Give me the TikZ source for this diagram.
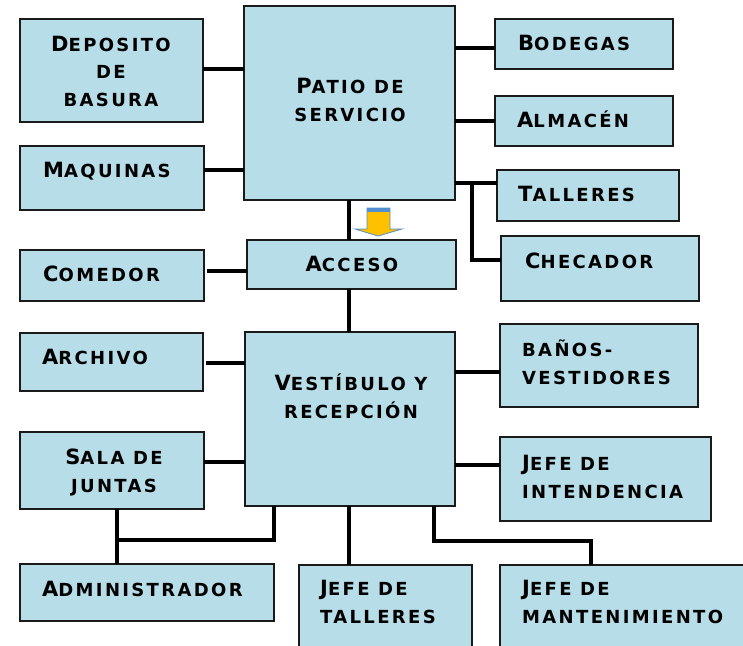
\documentclass[tikz,border=0pt]{standalone}
\usepackage{fontspec}
\newfontfamily\cpfont[LetterSpace=13]{DejaVu Sans}
\newcommand\cpfirst[1]{{\fontsize{21}{24}\selectfont #1}}
\definecolor{boxfill}{HTML}{B7DDE8}
\definecolor{boxline}{HTML}{1A1A1A}
\definecolor{arrowfill}{HTML}{FFC000}
\definecolor{arrowline}{HTML}{4F8FD0}
\tikzset{
  box/.style={draw=boxline, line width=1.8pt, fill=boxfill, rectangle, inner sep=0pt, outer sep=0pt},
  lbl/.style={font=\cpfont\bfseries\fontsize{18}{27.5}\selectfont, inner sep=0pt, text=black},
  conn/.style={draw=black, line width=3.6pt},
}
\newcommand\bx[5]{\node[box, minimum width=#4pt, minimum height=#5pt] (#1) at (#2,#3) {};}
\begin{document}
\begin{tikzpicture}[x=1pt, y=-1pt]
\useasboundingbox (0,0) rectangle (743,645);
\clip (0,0) rectangle (743,645);
% boxes
\bx{deposito}{111.5}{70.5}{183}{103}
\bx{maquinas}{112}{178}{184}{64}
\bx{patio}{349.5}{103}{211}{194}
\bx{comedor}{112}{275.5}{184}{51}
\bx{acceso}{351.5}{264.5}{209}{49}
\bx{bodegas}{584}{44}{178}{50}
\bx{almacen}{584}{121}{178}{50}
\bx{talleres}{588}{195.5}{182}{51}
\bx{checador}{600}{268.5}{198}{65}
\bx{archivo}{111.5}{362}{183}{58}
\bx{vestibulo}{350}{419}{210}{174}
\bx{sala}{112}{470.5}{184}{77}
\bx{admin}{147}{592.5}{254}{57}
\bx{jtalleres}{385.5}{617.5}{173}{105}
\bx{banos}{599}{365.5}{198}{83}
\bx{intend}{605.5}{479}{211}{84}
\bx{mant}{630}{617.5}{260}{105}
% connectors
\draw[conn] (deposito.east |- 0,69) -- (patio.west |- 0,69);
\draw[conn] (maquinas.east |- 0,170) -- (patio.west |- 0,170);
\draw[conn] (patio.east |- 0,48) -- (bodegas.west |- 0,48);
\draw[conn] (patio.east |- 0,121) -- (almacen.west |- 0,121);
\draw[conn] (patio.east |- 0,183) -- (talleres.west |- 0,183);
\draw[conn] (472,183) coordinate (tj) -- (tj |- 0,260) -- (checador.west |- 0,260);
\draw[conn] (patio.south -| 349,0) -- (acceso.north -| 349,0);
\draw[conn] ([xshift=3pt]comedor.east |- 0,271) -- (acceso.west |- 0,271);
\draw[conn] (acceso.south -| 349,0) -- (vestibulo.north -| 349,0);
\draw[conn] ([xshift=3pt]archivo.east |- 0,363) -- (vestibulo.west |- 0,363);
\draw[conn] (sala.east |- 0,462) -- (vestibulo.west |- 0,462);
\draw[conn] (vestibulo.south -| 274,0) -- (274,540) -- (117,540) coordinate (aj);
\draw[conn] (sala.south -| aj) -- (admin.north -| aj);
\draw[conn] (vestibulo.south -| 349,0) -- (jtalleres.north -| 349,0);
\draw[conn] (vestibulo.south -| 434,0) -- (434,541) -- (591,541) -- (mant.north -| 591,0);
\draw[conn] (vestibulo.east |- 0,372) -- (banos.west |- 0,372);
\draw[conn] (vestibulo.east |- 0,465) -- (intend.west |- 0,465);
% arrow
\path[fill=arrowfill, draw=arrowline, line width=0.8pt]
  (367,208) -- (390,208) -- (390,229) -- (402,229) -- (378,236) -- (355,229) -- (367,229) -- cycle;
\path[fill=arrowline] (367,208) rectangle (390,212);
% labels
\node[lbl, align=center, anchor=base] (t-deposito) at (111,106) {\cpfirst{D}EPOSITO\\DE\\BASURA};
\node[lbl, align=center, anchor=base] (t-patio) at (350,121) {\cpfirst{P}ATIO DE\\SERVICIO};
\node[lbl, anchor=base west] (t-bodegas) at (518,50) {\cpfirst{B}ODEGAS};
\node[lbl, anchor=base west] (t-almacen) at (517,127) {\cpfirst{A}LMACÉN};
\node[lbl, anchor=base west] (t-talleres) at (518,201) {\cpfirst{T}ALLERES};
\node[lbl, anchor=base west] (t-checador) at (525,268) {\cpfirst{C}HECADOR};
\node[lbl, anchor=base west] (t-maquinas) at (43,177) {\cpfirst{M}AQUINAS};
\node[lbl, anchor=base west] (t-comedor) at (43,281) {\cpfirst{C}OMEDOR};
\node[lbl, anchor=base] (t-acceso) at (352,271) {\cpfirst{A}CCESO};
\node[lbl, anchor=base west] (t-archivo) at (42,364) {\cpfirst{A}RCHIVO};
\node[lbl, align=center, anchor=base] (t-vestibulo) at (351,418) {\cpfirst{V}ESTÍBULO Y\\RECEPCIÓN};
\node[lbl, align=center, anchor=base] (t-sala) at (114,492) {\cpfirst{S}ALA DE\\JUNTAS};
\node[lbl, anchor=base west] (t-admin) at (42,596) {\cpfirst{A}DMINISTRADOR};
\node[lbl, align=left, anchor=base west] (t-jtalleres) at (320,623) {\cpfirst{J}EFE DE\\TALLERES};
\node[lbl, align=left, anchor=base west] (t-banos) at (522,384) {BAÑOS-\\VESTIDORES};
\node[lbl, align=left, anchor=base west] (t-intend) at (522,498) {\cpfirst{J}EFE DE\\INTENDENCIA};
\node[lbl, align=left, anchor=base west] (t-mant) at (522,623) {\cpfirst{J}EFE DE\\MANTENIMIENTO};
\end{tikzpicture}
\end{document}
